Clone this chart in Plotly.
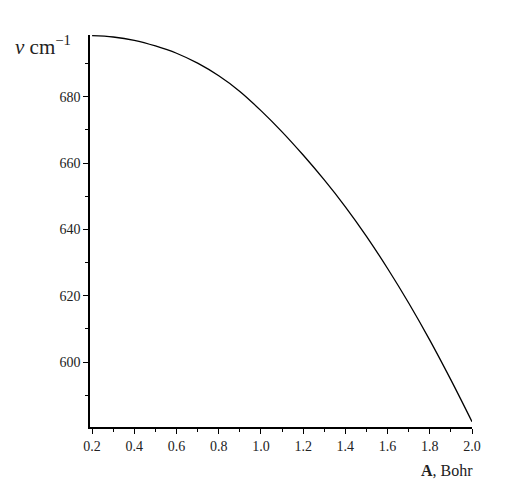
import plotly.graph_objects as go

A_vals = [0.2, 0.3, 0.4, 0.5, 0.6, 0.7, 0.8, 0.9, 1.0, 1.1, 1.2, 1.3, 1.4, 1.5, 1.6, 1.7, 1.8, 1.9, 2.0]
nu_vals = [698.4, 698.0, 697.0, 695.3, 693.1, 690.1, 686.3, 681.6, 675.8, 669.4, 662.4, 654.9, 646.8, 637.9, 628.2, 617.8, 606.6, 594.6, 582.0]
x_ticks = [0.2, 0.4, 0.6, 0.8, 1.0, 1.2, 1.4, 1.6, 1.8, 2.0]
x_ticktext = ["0.2", "0.4", "0.6", "0.8", "1.0", "1.2", "1.4", "1.6", "1.8", "2.0"]
y_ticks = [600, 620, 640, 660, 680]

fig = go.Figure()
fig.add_trace(go.Scatter(x=A_vals, y=nu_vals, mode="lines",
                         line=dict(color="black", width=1.3, shape="spline"),
                         showlegend=False, hoverinfo="skip"))

serif = "Liberation Serif, Times New Roman, serif"
axis_font = dict(family=serif, size=14, color="#222222")

fig.update_layout(
    width=515, height=486,
    paper_bgcolor="white", plot_bgcolor="white",
    margin=dict(l=82, r=51, t=27, b=67),
    font=axis_font,
    xaxis=dict(range=[0.19, 2.0], tickvals=x_ticks, ticktext=x_ticktext,
               showgrid=False, zeroline=False, showline=True, linecolor="black", linewidth=1.5,
               ticks="outside", ticklen=5, tickcolor="black",
               minor=dict(tickvals=[0.3, 0.5, 0.7, 0.9, 1.1, 1.3, 1.5, 1.7, 1.9], ticks="outside", ticklen=3, tickcolor="black"),
               tickfont=axis_font),
    yaxis=dict(range=[580.4, 698.6], tickvals=y_ticks,
               showgrid=False, zeroline=False, showline=True, linecolor="black", linewidth=1.5,
               ticks="outside", ticklen=5, tickcolor="black",
               minor=dict(tickvals=[590, 610, 630, 650, 670, 690], ticks="outside", ticklen=3, tickcolor="black"),
               tickfont=axis_font),
)

fig.add_annotation(xref="paper", yref="paper", x=-0.202, y=0.972, xanchor="left", yanchor="middle",
                   text="<i>ν</i> cm<sup>−1</sup>", showarrow=False,
                   font=dict(family=serif, size=21, color="#222222"))
fig.add_annotation(xref="paper", yref="paper", x=0.862, y=-0.11, xanchor="left", yanchor="middle",
                   text="<b>A</b>, Bohr", showarrow=False,
                   font=dict(family=serif, size=16, color="#222222"))

fig.write_html("out.html")
